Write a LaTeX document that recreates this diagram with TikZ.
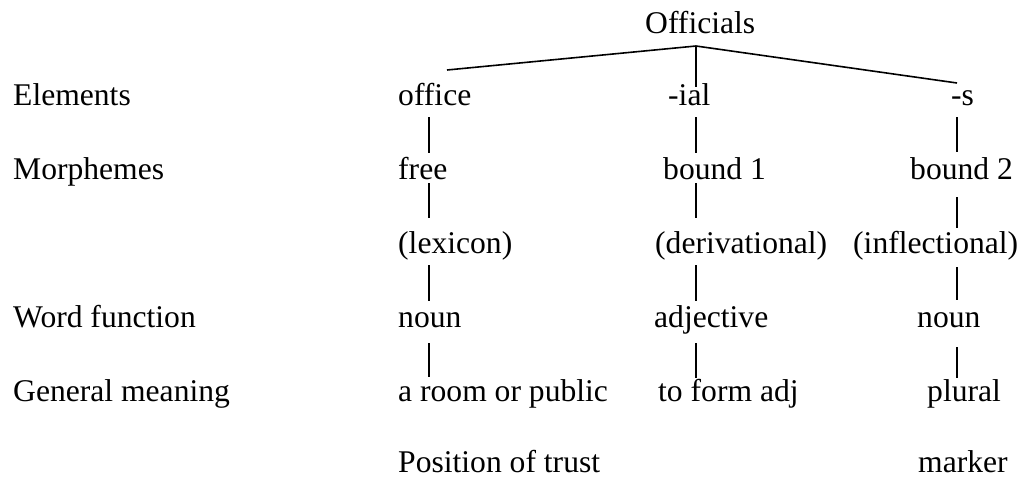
\documentclass[tikz,border=0pt]{standalone}
\usepackage{fontspec}
\setmainfont{Liberation Serif}
\usetikzlibrary{calc}
\tikzset{
  word/.style={anchor=base west, inner sep=0pt, font=\fontsize{31.6}{38}\selectfont},
  link/.style={line width=1.6pt, line cap=butt}
}
\begin{document}
\begin{tikzpicture}[x=1pt,y=-1pt]
\useasboundingbox (0,0) rectangle (1025,480);

% row labels
\node[word] (lElem) at (13,105) {Elements};
\node[word] (lMorph) at (13,179) {Morphemes};
\node[word] (lFunc) at (13,327) {Word function};
\node[word] (lMean) at (13,401) {General meaning};

% root
\node[word] (root) at (645,33) {Officials};

% column x positions of the vertical links
\coordinate (c1) at (429,0);
\coordinate (c2) at (696,0);
\coordinate (c3) at (957,0);

% column 1
\node[word] (office) at (398,105) {office};
\node[word] (free) at (398,179) {free};
\node[word] (lex) at (398,253) {(lexicon)};
\node[word] (noun1) at (398,327) {noun};
\node[word] (room) at (398,401) {a room or public};
\node[word] (trust) at (398,472) {Position of trust};

% column 2
\node[word] (ial) at (668,105) {-ial};
\node[word] (bound1) at (663,179) {bound 1};
\node[word] (deriv) at (655,253) {(derivational)};
\node[word] (adj) at (654,327) {adjective};
\node[word] (form) at (658,401) {to form adj};

% column 3
\node[word] (s) at (951,105) {-s};
\node[word] (bound2) at (910,179) {bound 2};
\node[word] (infl) at (853,253) {(inflectional)};
\node[word] (noun3) at (917,327) {noun};
\node[word] (plural) at (927,401) {plural};
\node[word] (marker) at (918,472) {marker};

% branching under the root
\coordinate (apex) at ($(root.base west -| c2)+(0,13)$);
\coordinate (tipL) at ($(office.base -| c1)+(18,-35)$);
\coordinate (tipM) at ($(ial.base -| c2)+(0,-18)$);
\coordinate (tipR) at ($(s.base -| c3)+(0,-22)$);
\draw[link] (tipL) -- (apex) -- (tipR);
\draw[link] (apex) -- (tipM);

% column 1 links
\draw[link] ($(office.base -| c1)+(0,12)$) -- ($(free.base -| c1)+(0,-26)$);
\draw[link] ($(free.base -| c1)+(0,4)$) -- ($(lex.base -| c1)+(0,-35)$);
\draw[link] ($(lex.base -| c1)+(0,12)$) -- ($(noun1.base -| c1)+(0,-26)$);
\draw[link] ($(noun1.base -| c1)+(0,16)$) -- ($(room.base -| c1)+(0,-24)$);

% column 2 links
\draw[link] ($(ial.base -| c2)+(0,12)$) -- ($(bound1.base -| c2)+(0,-26)$);
\draw[link] ($(bound1.base -| c2)+(0,4)$) -- ($(deriv.base -| c2)+(0,-35)$);
\draw[link] ($(deriv.base -| c2)+(0,12)$) -- ($(adj.base -| c2)+(0,-26)$);
\draw[link] ($(adj.base -| c2)+(0,16)$) -- ($(form.base -| c2)+(0,-23)$);

% column 3 links
\draw[link] ($(s.base -| c3)+(0,12)$) -- ($(bound2.base -| c3)+(0,-27)$);
\draw[link] ($(bound2.base -| c3)+(0,18)$) -- ($(infl.base -| c3)+(0,-25)$);
\draw[link] ($(infl.base -| c3)+(0,14)$) -- ($(noun3.base -| c3)+(0,-27)$);
\draw[link] ($(noun3.base -| c3)+(0,20)$) -- ($(plural.base -| c3)+(0,-23)$);
\end{tikzpicture}
\end{document}
